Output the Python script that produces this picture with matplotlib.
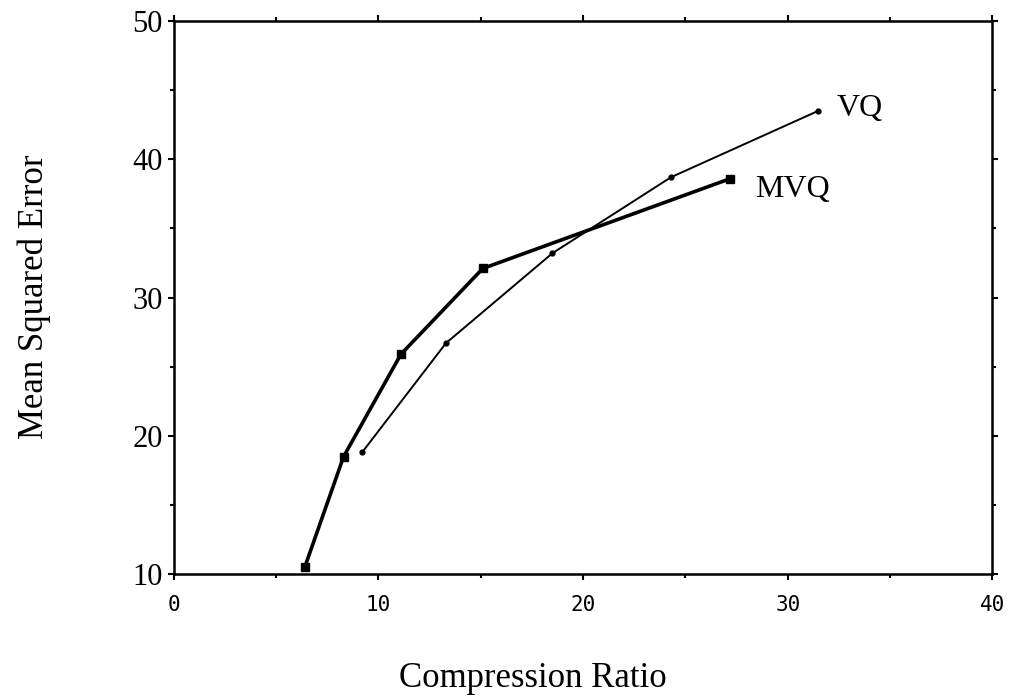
import matplotlib
matplotlib.use('Agg')
import matplotlib.pyplot as plt
from matplotlib.ticker import MultipleLocator

# data
mvq_ratio = [6.4, 8.3, 11.1, 15.1, 27.2]
mvq_mse = [10.5, 18.5, 25.9, 32.1, 38.6]

vq_ratio = [9.2, 13.3, 18.5, 24.3, 31.5]
vq_mse = [18.8, 26.7, 33.2, 38.7, 43.5]

xticks = [0, 10, 20, 30, 40]
yticks = [10, 20, 30, 40, 50]

fig = plt.figure(figsize=(10.22, 6.96), dpi=100)
ax = fig.add_axes([0.170, 0.175, 0.801, 0.795])

ax.plot(vq_ratio, vq_mse, color='black', lw=1.4, marker='o', ms=3.5)
ax.plot(mvq_ratio, mvq_mse, color='black', lw=2.6, marker='s', ms=5.5)

ax.text(vq_ratio[-1] + 0.9, vq_mse[-1] + 0.2, 'VQ', family='Liberation Serif',
        fontsize=23, va='center', ha='left')
ax.text(mvq_ratio[-1] + 1.2, mvq_mse[-1] - 0.8, 'MVQ', family='Liberation Serif',
        fontsize=23, va='center', ha='left')

ax.set_xlim(0, 40)
ax.set_ylim(10, 50)
ax.set_xticks(xticks)
ax.set_yticks(yticks)
ax.xaxis.set_minor_locator(MultipleLocator(5))
ax.yaxis.set_minor_locator(MultipleLocator(5))

for s in ax.spines.values():
    s.set_linewidth(1.8)

ax.tick_params(which='both', direction='out', top=True, right=True, width=1.5)
ax.tick_params(which='major', length=4)
ax.tick_params(which='minor', length=3)
ax.tick_params(axis='y', which='major', labelsize=22, pad=4)
ax.tick_params(axis='x', which='major', labelsize=15, pad=11)

for lab in ax.get_yticklabels():
    lab.set_family('Liberation Serif')
for lab in ax.get_xticklabels():
    lab.set_family('DejaVu Sans Mono')

fig.text(0.034, 0.573, 'Mean Squared Error', rotation=90, family='Liberation Serif',
         fontsize=25, ha='center', va='center')
fig.text(0.521, 0.025, 'Compression Ratio', family='Liberation Serif',
         fontsize=25, ha='center', va='center')

fig.savefig('out.png', dpi=100)
